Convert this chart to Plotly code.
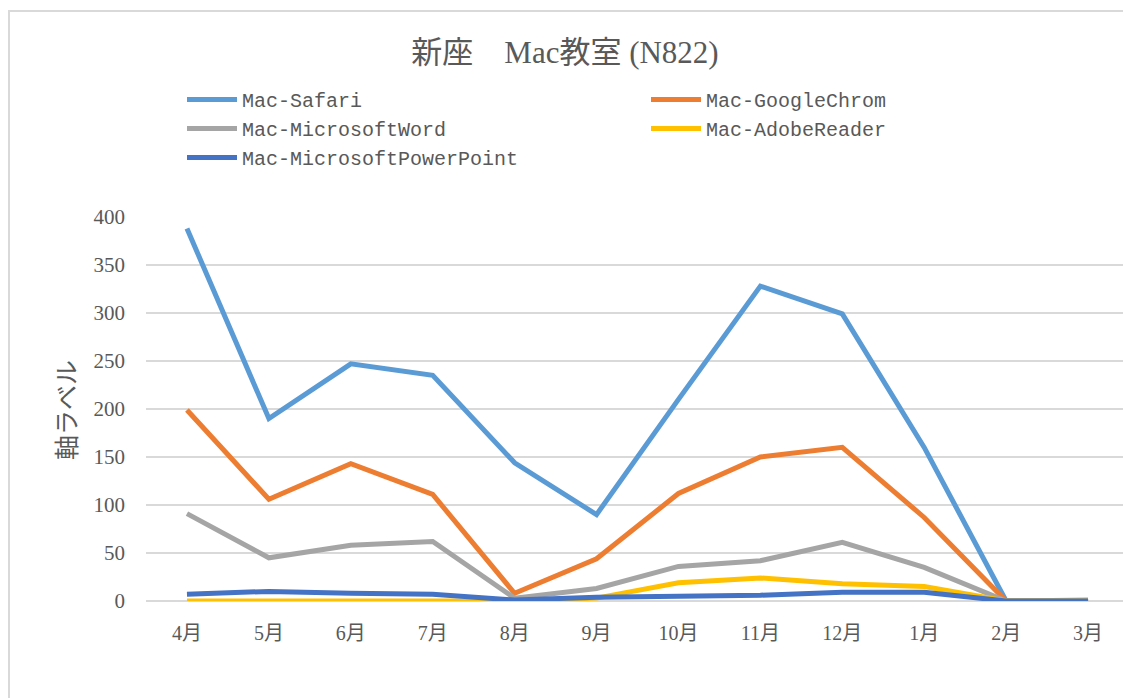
import plotly.graph_objects as go

months = ["4月", "5月", "6月", "7月", "8月", "9月", "10月", "11月", "12月", "1月", "2月", "3月"]
safari = [388, 190, 247, 235, 144, 90, 210, 328, 299, 160, 0, 0]
chrome = [199, 106, 143, 111, 8, 44, 112, 150, 160, 87, 0, 0]
word = [91, 45, 58, 62, 3, 13, 36, 42, 61, 35, 0, 1]
adobe = [0, 0, 0, 0, 0, 3, 19, 24, 18, 15, 0, 0]
ppt = [7, 10, 8, 7, 1, 4, 5, 6, 9, 9, 0, 0]

series = [
    ("Mac-Safari", safari, "#5B9BD5"),
    ("Mac-GoogleChrom", chrome, "#ED7D31"),
    ("Mac-MicrosoftWord", word, "#A5A5A5"),
    ("Mac-AdobeReader", adobe, "#FFC000"),
    ("Mac-MicrosoftPowerPoint", ppt, "#4472C4"),
]
y_ticks = [0, 50, 100, 150, 200, 250, 300, 350, 400]

serif = "Liberation Serif, Noto Sans CJK JP, serif"
mono = "Liberation Mono, Noto Sans CJK JP, monospace"
gray = "#595959"

fig = go.Figure()
for name, vals, color in series:
    fig.add_trace(go.Scatter(x=months, y=vals, name=name, mode="lines",
                             line=dict(color=color, width=5)))

# page has an 8px body margin; figure coordinates = page coordinates - 8
W, H = 1131, 698
L, R, T, B = 138, 10, 208, 105
PW, PH = W - L - R, H - T - B

fig.update_layout(
    width=W, height=H,
    margin=dict(l=L, r=R, t=T, b=B, autoexpand=False),
    paper_bgcolor="white", plot_bgcolor="white",
    title=dict(text="新座　Mac教室 (N822)", x=557 / W, xanchor="center", xref="container",
               y=1 - 44 / H, yanchor="middle", yref="container",
               font=dict(family=serif, size=31, color=gray)),
    legend=dict(orientation="h", x=174 / W, xanchor="left", xref="container",
                y=1 - 72 / H, yanchor="top", yref="container",
                entrywidth=399, entrywidthmode="pixels",
                font=dict(family=mono, size=20, color=gray),
                tracegroupgap=0, itemwidth=50,
                bgcolor="rgba(0,0,0,0)"),
    showlegend=True,
)
fig.update_xaxes(type="category", range=[-0.5, 11.5], showgrid=False,
                 showline=False, zeroline=False, ticks="", ticklabelstandoff=18,
                 tickfont=dict(family=serif, size=20, color=gray))
fig.update_yaxes(range=[0, 401], tickvals=y_ticks, showgrid=True,
                 gridcolor="#D9D9D9", gridwidth=1.5, zeroline=True,
                 zerolinecolor="#D9D9D9", zerolinewidth=1.5, showline=False,
                 ticks="", ticklabelstandoff=20,
                 tickfont=dict(family=serif, size=21, color=gray))

fig.add_annotation(text="軸ラベル", textangle=-90, xref="paper", yref="paper",
                   x=(59 - L) / PW, y=(H - B - 402) / PH,
                   xanchor="center", yanchor="middle", showarrow=False,
                   font=dict(family=serif, size=25, color=gray))

# chart frame
fig.add_shape(type="rect", xref="paper", yref="paper",
              x0=(1 - L) / PW, x1=(W + 20 - L) / PW,
              y0=(H - B - (H + 20)) / PH, y1=(H - B - 3) / PH,
              line=dict(color="#D9D9D9", width=2), layer="below")

fig.write_html("out.html")
